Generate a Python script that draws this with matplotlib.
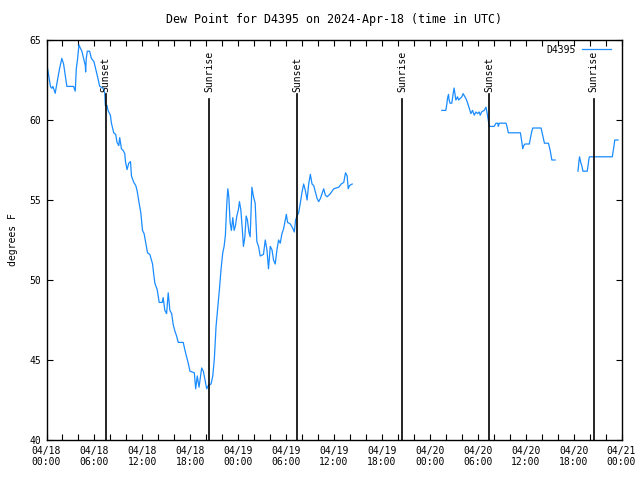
import numpy as np
import matplotlib
matplotlib.use("Agg")
import matplotlib.pyplot as plt

# hours since 2024-04-18 00:00 UTC, dew point in degrees F
hours_a = [0, 0.5, 0.67, 0.8, 1.09, 1.2, 1.42, 1.63, 1.92, 2.14, 2.35, 2.55, 3.39, 3.6,
           3.73, 3.9, 4.06, 4.23, 4.43, 4.65, 4.86, 4.9, 4.98, 5.11, 5.4, 5.62, 5.94,
           6.16, 6.44, 6.66, 7.07, 7.29, 7.37, 7.58, 7.7, 8.0, 8.13, 8.42, 8.67, 8.83,
           9.05, 9.17, 9.38, 9.59, 9.8, 9.89, 10.09, 10.3, 10.52, 10.64, 10.93, 11.18,
           11.34, 11.6, 11.81, 12.02, 12.22, 12.44, 12.65, 12.94, 13.28, 13.44, 13.57,
           13.86, 14.11, 14.49, 14.61, 14.82, 15.04, 15.24, 15.45, 15.67, 15.87, 16.08,
           16.29, 16.5, 17.12, 17.34, 17.55, 17.75, 17.96, 18.51, 18.68, 18.88, 19.1,
           19.22, 19.43, 19.64, 19.85, 20.06, 20.26, 20.6, 20.82, 21.02, 21.23, 21.45,
           21.65, 21.86, 22.07, 22.24, 22.4, 22.58, 22.7, 22.83, 22.99, 23.15, 23.33,
           23.49, 23.66, 23.83, 24.03, 24.16, 24.33, 24.5, 24.66, 24.84, 25.0, 25.16,
           25.34, 25.5, 25.72, 25.92, 26.13, 26.34, 26.55, 26.76, 27.17, 27.39, 27.6,
           27.8, 28.02, 28.23, 28.43, 28.64, 28.86, 29.06, 29.27, 29.48, 29.69, 30.03,
           30.19, 30.53, 30.87, 31.03, 31.19, 31.37, 31.57, 31.78, 32.0, 32.2, 32.41,
           32.63, 32.83, 33.04, 33.25, 33.46, 33.67, 33.88, 34.08, 34.3, 34.51, 34.71,
           34.92, 35.14, 35.55, 35.97, 36.6, 36.9, 37.22, 37.44, 37.65, 37.78, 37.94,
           38.28]
dew_a = [63.64, 62.08, 61.98, 62.1, 61.67, 62.0, 62.6, 63.2, 63.85, 63.5, 62.8, 62.1,
         62.1, 61.8, 63.2, 63.85, 64.7, 64.5, 64.3, 63.85, 63.4, 63.0, 63.85, 64.3,
         64.3, 63.85, 63.65, 63.2, 62.6, 62.1, 62.0, 61.7, 60.9, 60.9, 60.6, 60.3,
         59.8, 59.2, 59.1, 58.6, 58.4, 58.9, 58.2, 58.1, 57.9, 57.4, 56.9, 57.3, 57.4,
         56.5, 56.1, 55.9, 55.6, 54.8, 54.2, 53.1, 52.9, 52.3, 51.7, 51.6, 51.0, 50.3,
         49.8, 49.4, 48.6, 48.6, 48.9, 48.1, 47.9, 49.2, 48.1, 47.9, 47.2, 46.8, 46.5,
         46.1, 46.1, 45.6, 45.2, 44.8, 44.3, 44.2, 43.2, 44.0, 43.3, 43.75, 44.5, 44.3,
         43.75, 43.2, 43.4, 43.5, 44.0, 45.1, 47.1, 48.3, 49.4, 50.7, 51.7, 52.1, 52.8,
         54.8, 55.7, 55.2, 53.6, 53.1, 53.9, 53.1, 53.4, 54.0, 54.4, 54.9, 54.4, 53.3,
         52.1, 52.7, 54.0, 53.75, 53.0, 52.7, 55.8, 55.2, 54.8, 52.4, 52.1, 51.5, 51.6,
         52.5, 51.9, 50.7, 52.1, 51.9, 51.25, 51.0, 51.9, 52.5, 52.3, 52.9, 53.2, 54.1,
         53.6, 53.5, 53.2, 53.0, 53.75, 54.0, 54.2, 54.8, 55.5, 56.0, 55.6, 55.0, 56.0,
         56.6, 56.0, 55.9, 55.5, 55.1, 54.9, 55.1, 55.4, 55.7, 55.3, 55.2, 55.4, 55.7,
         55.8, 56.0, 56.1, 56.7, 56.5, 55.7, 55.9, 56.0]

hours_b = [49.5, 50.0, 50.13, 50.21, 50.34, 50.41, 50.54, 50.75, 50.92, 51.04, 51.17,
           51.26, 51.47, 51.6, 51.8, 52.01, 52.17, 52.39, 52.6, 52.8, 53.02, 53.14,
           53.35, 53.56, 53.77, 53.98, 54.18, 54.31, 54.48, 54.81, 55.03, 55.15, 55.31,
           55.44, 56.07, 56.28, 56.5, 56.57, 56.7, 57.54, 57.66, 57.83, 59.34, 59.51,
           59.64, 59.76, 59.92, 60.46, 60.59, 60.77, 60.89, 61.93, 62.15, 62.35, 62.85,
           63.07, 63.28, 63.69]
dew_b = [60.6, 60.6, 61.0, 61.35, 61.6, 61.25, 61.05, 61.05, 61.65, 62.0, 61.55, 61.25,
         61.45, 61.25, 61.35, 61.45, 61.65, 61.45, 61.25, 60.95, 60.6, 60.4, 60.6, 60.3,
         60.5, 60.4, 60.5, 60.3, 60.5, 60.6, 60.8, 60.5, 60.0, 59.6, 59.6, 59.8, 59.8,
         59.6, 59.8, 59.8, 59.6, 59.2, 59.2, 58.65, 58.2, 58.4, 58.5, 58.5, 58.85, 59.3,
         59.5, 59.5, 59.0, 58.55, 58.55, 58.1, 57.5, 57.5]

hours_c = [66.55, 66.67, 66.75, 66.87, 67.05, 67.17, 67.71, 67.8, 67.93, 68.0, 70.85,
           70.94, 71.07, 71.15, 71.57]
dew_c = [56.8, 57.4, 57.7, 57.4, 57.1, 56.8, 56.8, 57.1, 57.6, 57.7, 57.7, 58.0, 58.4,
         58.75, 58.75]

sunset_hours = [7.4, 31.4, 55.4]
sunrise_hours = [20.4, 44.5, 68.5]

tick_hours = list(range(0, 73, 6))
tick_labels = ["04/18\n00:00", "04/18\n06:00", "04/18\n12:00", "04/18\n18:00",
               "04/19\n00:00", "04/19\n06:00", "04/19\n12:00", "04/19\n18:00",
               "04/20\n00:00", "04/20\n06:00", "04/20\n12:00", "04/20\n18:00",
               "04/21\n00:00"]

plt.rcParams['font.family'] = ['DejaVu Sans Mono']
plt.rcParams['font.size'] = 7

fig = plt.figure(figsize=(6.4, 4.8), dpi=100)
ax = fig.add_axes([46.5 / 640, 40 / 480, 575 / 640, 400 / 480])

blue = '#1a8cff'
ax.plot(hours_a, dew_a, color=blue, lw=0.9, label='D4395')
ax.plot(hours_b, dew_b, color=blue, lw=0.9)
ax.plot(hours_c, dew_c, color=blue, lw=0.9)

# sunrise / sunset markers
for h in sunset_hours:
    ax.plot([h, h], [40, 61.6], color='black', lw=1.2)
    ax.text(h, 61.75, 'Sunset', rotation=90, ha='center', va='bottom')
for h in sunrise_hours:
    ax.plot([h, h], [40, 61.3], color='black', lw=1.2)
    ax.text(h, 61.75, 'Sunrise', rotation=90, ha='center', va='bottom')

ax.set_xlim(0, 72)
ax.set_ylim(40, 65)
ax.set_xticks(tick_hours)
ax.set_xticklabels(tick_labels)
ax.set_xticks(range(0, 73, 2), minor=True)
ax.set_yticks(range(40, 66, 5))
ax.tick_params(which='both', direction='in', top=True, right=True, length=4,
               width=0.8, pad=4)
for s in ax.spines.values():
    s.set_linewidth(1.0)

ax.set_ylabel('degrees F', labelpad=8)
ax.set_title('Dew Point for D4395 on 2024-Apr-18 (time in UTC)', pad=12)
ax.legend(loc='upper right', bbox_to_anchor=(0.985, 0.993), frameon=False,
          markerfirst=False, handlelength=3, borderaxespad=0, borderpad=0.2,
          handletextpad=0.6)

fig.savefig('out.png', dpi=100)
